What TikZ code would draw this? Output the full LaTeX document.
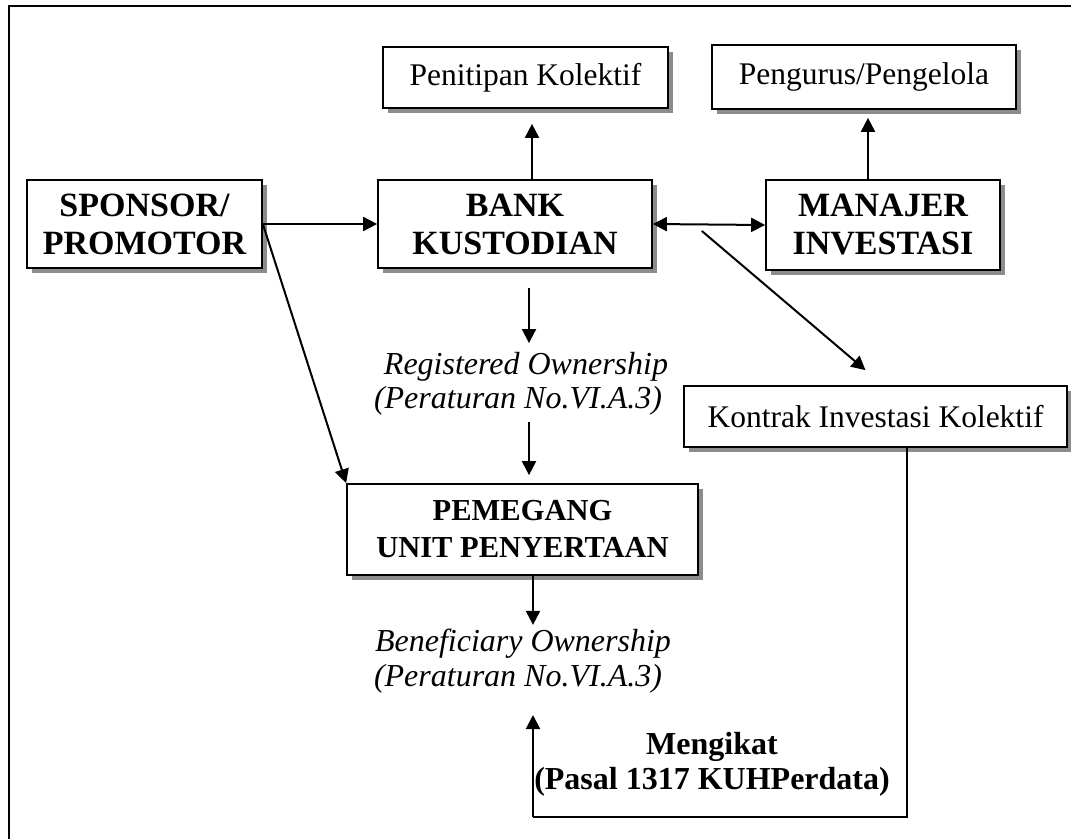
\documentclass[tikz,border=0pt]{standalone}
\usepackage{fontspec}
\setmainfont{Liberation Serif}
\usetikzlibrary{arrows.meta,shadows}
\tikzset{
  kotak/.style={draw, line width=1.7pt, fill=white, inner sep=0pt, align=center,
    drop shadow={shadow xshift=5pt, shadow yshift=-5pt, fill=gray!90, opacity=1}},
  tebal/.style={font=\fontsize{34}{38}\selectfont\bfseries},
  miring/.style={inner sep=0pt, align=center, font=\fontsize{32}{34.5}\selectfont\itshape},
  teks/.style={inner sep=0pt, align=center},
  panah/.style={line width=2pt, -{Triangle[length=14pt,width=14pt]}},
}
\begin{document}
\begin{tikzpicture}[x=1pt,y=-1pt,font=\fontsize{31.5}{36}\selectfont]
                    % \helpgrid{1071}{839}
                    \useasboundingbox (0,0) rectangle (1071,839);
                    \draw[line width=1.8pt] (9,839) -- (9,6) -- (1071,6);

                    \node (penitipan) at (525.5,77.5) [kotak, minimum width=285pt, minimum height=61pt] {Penitipan Kolektif};
                    \node (pengurus) at (864,77) [kotak, minimum width=304pt, minimum height=64pt] {Pengurus/Pengelola};
                    \node (sponsor) at (144.5,224) [kotak, tebal, minimum width=235pt, minimum height=88pt] {SPONSOR/\\PROMOTOR};
                    \node (bank) at (515,224) [kotak, tebal, minimum width=274pt, minimum height=88pt] {BANK\\KUSTODIAN};
                    \node (manajer) at (883,225) [kotak, tebal, minimum width=234pt, minimum height=90pt] {MANAJER\\INVESTASI};
                    \node (kontrak) at (875.5,416.5) [kotak, minimum width=383pt, minimum height=61pt] {Kontrak Investasi Kolektif};
                    \node (pemegang) at (522.5,529.5) [kotak, minimum width=351pt, minimum height=91pt, font=\fontsize{30.5}{37}\selectfont\bfseries] {PEMEGANG\\UNIT PENYERTAAN};

                    \node (registered) at (518,384) [miring] {\hspace*{16pt}Registered Ownership\\(Peraturan No.VI.A.3)};
                    \node (beneficiary) at (518,661) [miring] {\hspace*{10pt}Beneficiary Ownership\\(Peraturan No.VI.A.3)};
                    \node (mengikat) at (712,764) [teks, font=\fontsize{32}{35}\selectfont\bfseries] {Mengikat\\(Pasal 1317 KUHPerdata)};

                    \draw[panah, shorten >=15pt] ([xshift=17pt]bank.north) -- ([xshift=6.5pt]penitipan.south);
                    \draw[panah, shorten >=8pt] ([xshift=-15pt]manajer.north) -- ([xshift=4pt]pengurus.south);
                    \draw[panah] (sponsor.east) -- (bank.west);
                    \draw[panah, {Triangle[length=14pt,width=14pt]}-{Triangle[length=14pt,width=14pt]}] (bank.east) -- (manajer.west);
                    \draw[panah] ([xshift=49pt,yshift=-7pt]bank.east) -- ([xshift=-10pt,yshift=15pt]kontrak.north);
                    \draw[panah] (sponsor.east) -- (pemegang.north west);
                    \draw[panah, shorten <=19pt, shorten >=9pt] ([xshift=14pt]bank.south) -- ([xshift=11pt]registered.north);
                    \draw[panah, shorten <=6pt, shorten >=8pt] ([xshift=11pt]registered.south) -- ([xshift=6.5pt]pemegang.north);
                    \draw[panah, shorten >=4pt] ([xshift=10.5pt]pemegang.south) -- ([xshift=15pt]beneficiary.north);

                    \coordinate (ikatbawah) at (533,817);
                    \coordinate (ikatatas) at (533,715);
                    \draw[line width=2pt] ([xshift=31.5pt]kontrak.south) |- (ikatbawah);
                    \draw[panah] (ikatbawah) -- (ikatatas);
\end{tikzpicture}
\end{document}
